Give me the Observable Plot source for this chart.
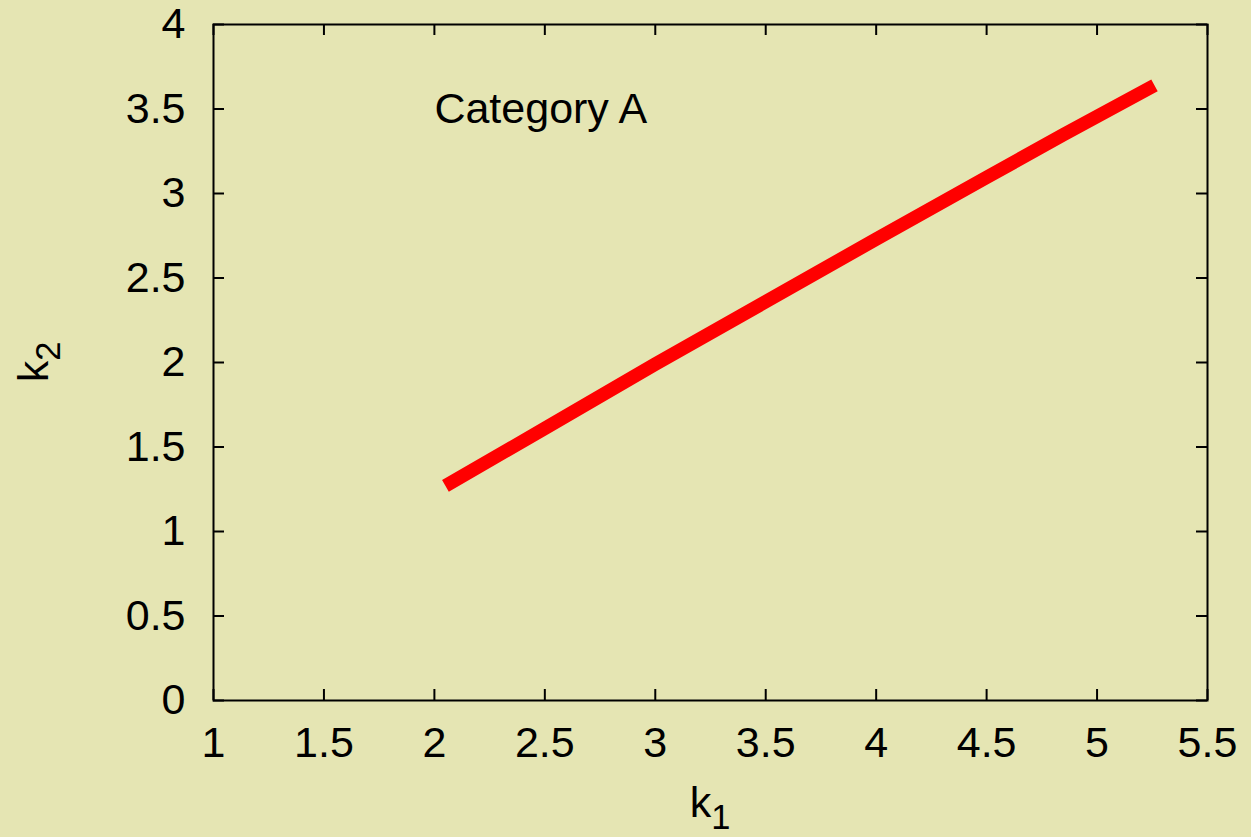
<!DOCTYPE html>
<html>
<head>
<meta charset="utf-8">
<script src="https://cdn.jsdelivr.net/npm/d3@7"></script>
<script src="https://cdn.jsdelivr.net/npm/@observablehq/plot@0.6"></script>
<style>
  html, body { margin: 0; padding: 0; background: #e5e5b3; }
  #chart svg { display: block; }
</style>
</head>
<body>
<div id="chart"></div>
<script>
// Data
const k1 = [2.05, 2.5, 3.0, 3.5, 4.0, 4.5, 4.85, 5.26];
const k2 = [1.27, 1.61, 1.99, 2.36, 2.73, 3.095, 3.35, 3.64];
const xTicks = [1, 1.5, 2, 2.5, 3, 3.5, 4, 4.5, 5, 5.5];
const xTickLabels = ["1", "1.5", "2", "2.5", "3", "3.5", "4", "4.5", "5", "5.5"];
const yTicks = [0, 0.5, 1, 1.5, 2, 2.5, 3, 3.5, 4];
const yTickLabels = ["0", "0.5", "1", "1.5", "2", "2.5", "3", "3.5", "4"];
const labelText = "Category A";
const labelPos = {x: 2.0, y: 3.5};

const data = k1.map((v, i) => ({k1: v, k2: k2[i]}));

const W = 1251, H = 837;
const mL = 213, mR = 44, mT = 24, mB = 137;
const fw = W - mL - mR, fh = H - mT - mB;
const font = "'Liberation Sans', Arial, sans-serif";
const fs = 43;
const tickLen = 11;

const plot = Plot.plot({
  width: W,
  height: H,
  marginLeft: mL,
  marginRight: mR,
  marginTop: mT,
  marginBottom: mB,
  style: {background: "#e5e5b3", fontFamily: font, fontSize: fs + "px", color: "black"},
  x: {domain: [1, 5.5]},
  y: {domain: [0, 4]},
  marks: [
    Plot.line(data, {x: "k1", y: "k2", stroke: "#ff0000", strokeWidth: 13.5, strokeLinecap: "butt", strokeLinejoin: "round"}),
    // inward ticks on all four sides
    Plot.tickX(xTicks, {x: d => d, insetTop: fh - tickLen, stroke: "black", strokeWidth: 2}),
    Plot.tickX(xTicks, {x: d => d, insetBottom: fh - tickLen, stroke: "black", strokeWidth: 2}),
    Plot.tickY(yTicks, {y: d => d, insetRight: fw - tickLen, stroke: "black", strokeWidth: 2}),
    Plot.tickY(yTicks, {y: d => d, insetLeft: fw - tickLen, stroke: "black", strokeWidth: 2}),
    Plot.axisX({ticks: xTicks, tickFormat: (d, i) => xTickLabels[i], tickSize: 0, tickPadding: 26, label: null, fontSize: fs, fill: "black"}),
    Plot.axisY({ticks: yTicks, tickFormat: (d, i) => yTickLabels[i], tickSize: 0, tickPadding: 28, label: null, fontSize: fs, fill: "black"}),
    Plot.frame({stroke: "black", strokeWidth: 2}),
    Plot.text([labelText], {x: labelPos.x, y: labelPos.y, text: d => d, textAnchor: "start", lineAnchor: "middle", fontSize: fs, fill: "black"})
  ]
});

document.getElementById("chart").appendChild(plot);

// Axis titles with real subscripts
const svg = d3.select(plot);
const xt = svg.append("text")
  .attr("x", mL + fw / 2)
  .attr("y", 817)
  .attr("text-anchor", "middle")
  .attr("font-family", font)
  .attr("font-size", fs)
  .attr("fill", "black");
xt.append("tspan").text("k");
xt.append("tspan").attr("font-size", fs * 0.8).attr("dy", 12).text("1");

const yt = svg.append("text")
  .attr("transform", `translate(48,${mT + fh / 2}) rotate(-90)`)
  .attr("text-anchor", "middle")
  .attr("font-family", font)
  .attr("font-size", fs)
  .attr("fill", "black");
yt.append("tspan").text("k");
yt.append("tspan").attr("font-size", fs * 0.8).attr("dy", 12).text("2");
</script>
</body>
</html>
